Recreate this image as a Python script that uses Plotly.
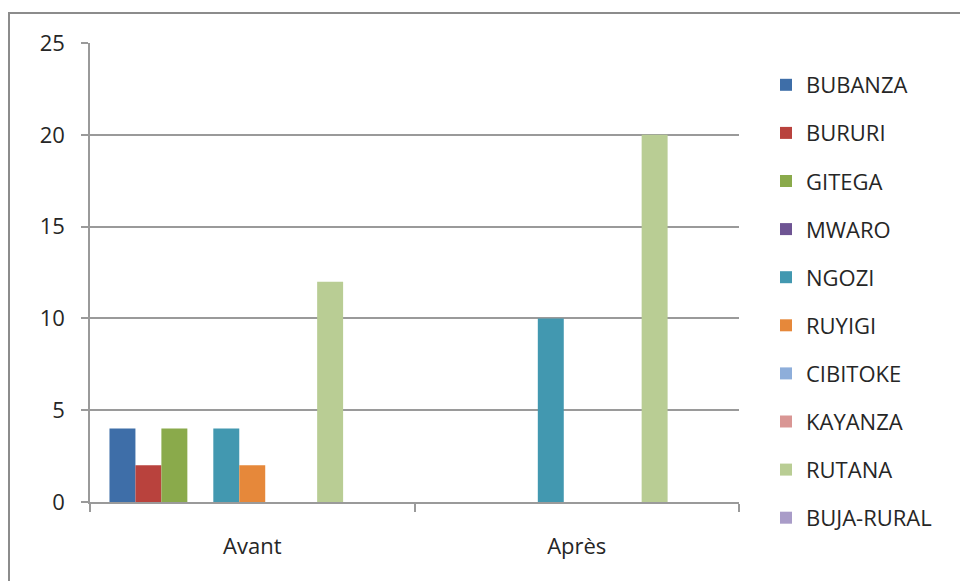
import plotly.graph_objects as go

categories = ["Avant", "Après"]
provinces = ["BUBANZA", "BURURI", "GITEGA", "MWARO", "NGOZI", "RUYIGI",
             "CIBITOKE", "KAYANZA", "RUTANA", "BUJA-RURAL", ""]
avant = [4, 2, 4, 0, 4, 2, 0, 0, 12, 0, 0]
apres = [0, 0, 0, 0, 10, 0, 0, 0, 20, 0, 0]
in_legend = [True] * 10 + [False]
colors = ["#3E6EA8", "#B9423D", "#8AAA4B", "#6E5493", "#4298B0", "#E6883A",
          "#8EAEDA", "#D99694", "#B9CD94", "#A99CC8", "#F2F2F2"]
y_ticks = [0, 5, 10, 15, 20, 25]

FONT = "Open Sans"
FS = 22
fig = go.Figure()
for i, name in enumerate(provinces):
    fig.add_trace(go.Bar(
        x=categories, y=[avant[i], apres[i]], name=name,
        marker=dict(color=colors[i], line=dict(width=0)),
        legendgroup="g%d" % i, showlegend=in_legend[i],
    ))

W, H = 960, 581
L, R, T, B = 90, 221, 43, 79
pw, ph = W - L - R, H - T - B

def px2x(p):
    return (p - L) / pw

def px2y(p):
    return 1 - (p - T) / ph

fig.update_layout(
    width=W, height=H,
    margin=dict(l=L, r=R, t=T, b=B, pad=0),
    paper_bgcolor="white", plot_bgcolor="white",
    barmode="group", bargap=0.12, bargroupgap=0,
    font=dict(family=FONT, size=FS, color="#262626"),
    showlegend=True,
    legend=dict(
        x=px2x(766), y=px2y(64), xanchor="left", yanchor="top",
        traceorder="grouped", tracegroupgap=16.5, maxheight=1000,
        font=dict(family=FONT, size=FS, color="#262626"),
        bgcolor="rgba(0,0,0,0)", borderwidth=0,
    ),
    xaxis=dict(
        type="category", showline=True, linecolor="#9A9A9A", linewidth=1.5,
        showgrid=False, ticks="outside", tickson="boundaries", ticklen=8,
        tickcolor="#9A9A9A", tickwidth=1.5, ticklabelstandoff=24,
        tickfont=dict(family=FONT, size=FS, color="#262626"),
    ),
    yaxis=dict(
        range=[0, 25], tickvals=y_ticks, showline=True, linecolor="#9A9A9A",
        linewidth=1.5, showgrid=True, gridcolor="#9A9A9A", gridwidth=1.5,
        zeroline=False, ticks="outside", ticklen=7, tickcolor="#9A9A9A",
        tickwidth=1.5, ticklabelstandoff=12,
        tickfont=dict(family=FONT, size=FS, color="#262626"),
    ),
    shapes=[dict(
        type="rect", xref="paper", yref="paper",
        x0=px2x(9), y0=px2y(620), x1=px2x(1000), y1=px2y(13),
        line=dict(color="#8C8C8C", width=2), fillcolor="rgba(0,0,0,0)",
        layer="below",
    )],
)

fig.write_html(
    "out.html",
    config={"displayModeBar": False},
    post_script="document.body.style.margin='0';document.body.style.overflow='hidden';",
)
